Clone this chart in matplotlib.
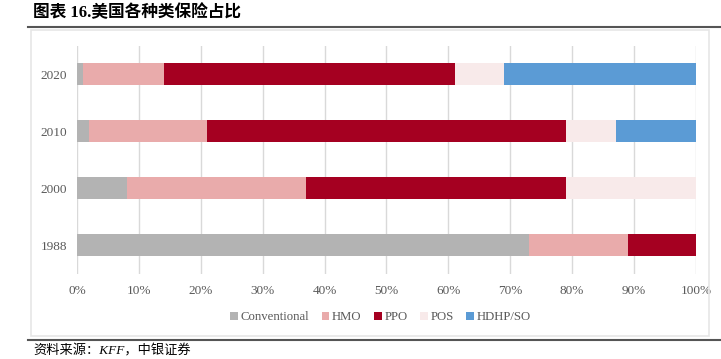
import numpy as np
import matplotlib.pyplot as plt
from matplotlib.patches import Rectangle
from matplotlib.lines import Line2D

years = ["1988", "2000", "2010", "2020"]
series = ["Conventional", "HMO", "PPO", "POS", "HDHP/SO"]
conventional = [73, 8, 2, 1]
hmo = [16, 29, 19, 13]
ppo = [11, 42, 58, 47]
pos = [0, 21, 8, 8]
hdhp = [0, 0, 13, 31]
colors = ["#b3b3b3", "#e9abab", "#a50021", "#f8eaea", "#5b9bd5"]

serif = ["Liberation Serif", "Noto Sans CJK SC"]
plt.rcParams["font.family"] = serif

fig = plt.figure(figsize=(7.21, 3.59), dpi=100)
ax = fig.add_axes([0.1068, 0.238, 0.8585, 0.635])

y = np.arange(len(years))
left = np.zeros(len(years))
for name, vals, c in zip(series, [conventional, hmo, ppo, pos, hdhp], colors):
    vals = np.array(vals, dtype=float)
    ax.barh(y, vals, left=left, height=0.39, color=c, label=name, zorder=3)
    left += vals

ax.set_xlim(0, 100)
ax.set_ylim(-0.5, 3.5)
ax.set_yticks(y)
ax.set_yticklabels(years)
ax.set_xticks(np.arange(0, 101, 10))
ax.set_xticklabels([f"{v}%" for v in range(0, 101, 10)])
ax.tick_params(length=0, labelsize=9.5, colors="#595959", pad=8)
ax.tick_params(axis="y", pad=7)
ax.grid(axis="x", color="#d9d9d9", lw=1, zorder=0)
for s in ax.spines.values():
    s.set_visible(False)

leg = ax.legend(loc="upper center", bbox_to_anchor=(0.49, -0.115), ncol=5,
                frameon=False, fontsize=9.2, handlelength=0.6, handleheight=0.6,
                handletextpad=0.2, columnspacing=1.0)
for t in leg.get_texts():
    t.set_color("#595959")

# frame around chart area
fig.patches.append(Rectangle((31 / 721, 1 - 336 / 359), 678 / 721, 306 / 359,
                             transform=fig.transFigure, fill=False,
                             ec="#e6e6e6", lw=1.2))
fig.lines.append(Line2D([28 / 721, 1], [1 - 27 / 359] * 2, transform=fig.transFigure,
                        color="#555555", lw=1.5))
fig.lines.append(Line2D([28 / 721, 1], [1 - 340 / 359] * 2, transform=fig.transFigure,
                        color="#555555", lw=1.5))

fig.text(33 / 721, 1 - 13 / 359, "图表 16.美国各种类保险占比", fontsize=12,
         fontweight="bold", va="center", ha="left", family=serif)
fig.text(33 / 721, 1 - 351 / 359, "资料来源：KFF，中银证券", fontsize=9.5,
         style="italic", va="center", ha="left", family=serif)

fig.savefig("out.png", dpi=100)
